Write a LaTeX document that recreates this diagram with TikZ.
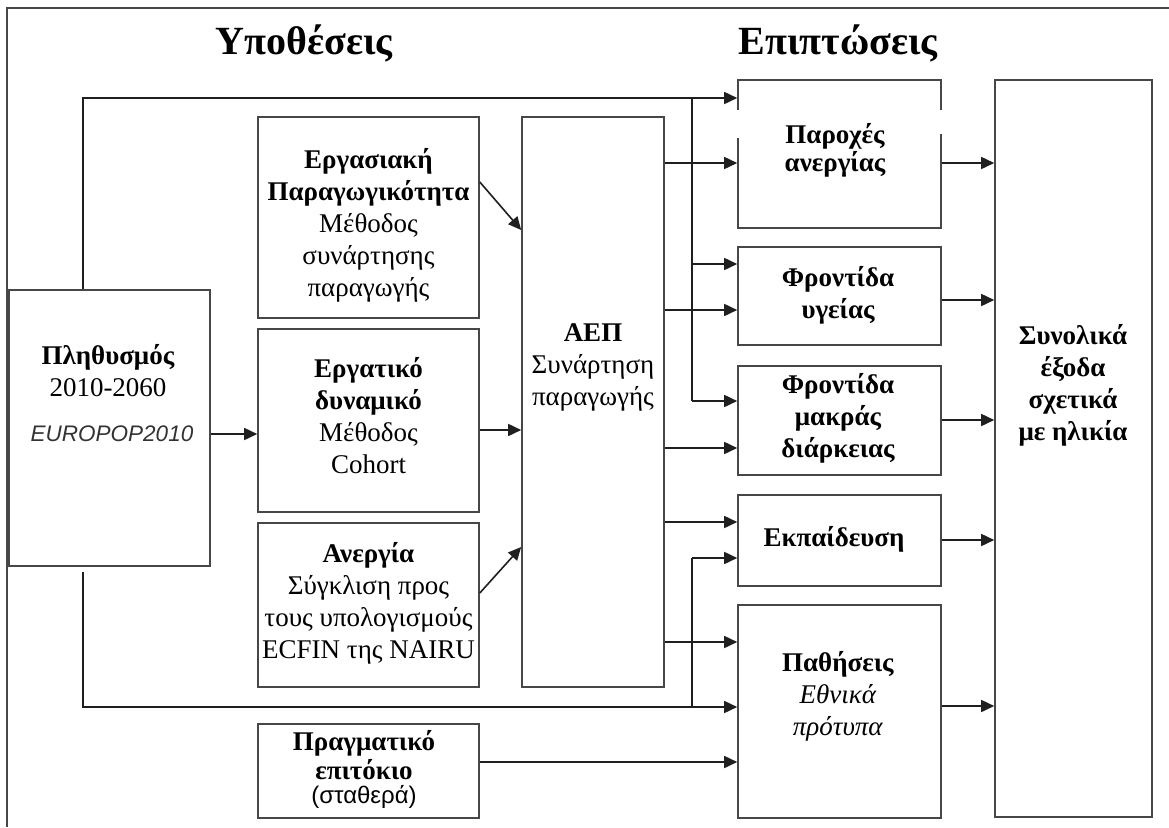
\documentclass[tikz,border=0pt]{standalone}
\usepackage{fontspec}
\setmainfont{Liberation Serif}
\newfontfamily\sansgr{Liberation Sans}
\usetikzlibrary{arrows.meta}
\tikzset{
  bx/.style={draw=black!72, line width=1.6pt, inner sep=0pt},
  ln/.style={draw=black!88, line width=1.6pt},
  arr/.style={ln, -{Triangle[length=13pt,width=12pt]}},
  tx/.style={inner sep=0pt, align=center, font=\fontsize{27}{32}\selectfont},
  txb/.style={tx, font=\fontsize{27}{32}\selectfont\bfseries},
  ttl/.style={inner sep=0pt, font=\fontsize{40}{46}\selectfont\bfseries},
  smallsans/.style={inner sep=0pt, align=center, font=\fontsize{22.5}{26}\selectfont\sansgr\itshape, text=black!80},
}
\newcommand\mkbox[5]{\node[bx, minimum width={#4-#2}, minimum height={#5-#3}] (#1) at ({(#2+#4)/2},{(#3+#5)/2}) {};}
\begin{document}
\begin{tikzpicture}[x=1pt,y=-1pt]
\useasboundingbox (0,0) rectangle (1169,827);
% frame (top and left edges)
\draw[draw=black!72, line width=1.8pt] (7,827) -- (7,8) -- (1169,8);
% titles
\node[ttl] (t-hyp) at (304,43) {Υποθέσεις};
\node[ttl] (t-imp) at (838,43) {Επιπτώσεις};
% boxes
\mkbox{pop}{9}{290}{210}{566}
\mkbox{prod}{258}{117}{479}{318}
\mkbox{lab}{258}{329}{479}{512}
\mkbox{unemp}{258}{523}{479}{687}
\mkbox{rate}{258}{724}{479}{818}
\mkbox{gdp}{522}{117}{664}{687}
\mkbox{ben}{738}{80}{941}{228}
\mkbox{health}{738}{247}{941}{345}
\mkbox{ltc}{738}{366}{941}{475}
\mkbox{edu}{738}{495}{941}{586}
\mkbox{dis}{738}{605}{941}{818}
\mkbox{tot}{995}{80}{1152}{817}
% gaps in the edges of the first impact box
\fill[white] (734,110) rectangle (742,138);
\fill[white] (937,110) rectangle (945,134);
% texts
\node[tx] (t-pop) at (108,371) {\textbf{Πληθυσμός}\\2010-2060};
\node[smallsans] (t-europop) at (112,434) {EUROPOP2010};
\node[tx] (t-prod) at (368.5,225) {\textbf{Εργασιακή}\\\textbf{Παραγωγικότητα}\\Μέθοδος\\συνάρτησης\\παραγωγής};
\node[tx] (t-lab) at (368.5,416) {\textbf{Εργατικό}\\\textbf{δυναμικό}\\Μέθοδος\\Cohort};
\node[tx] (t-unemp) at (368.5,603) {\textbf{Ανεργία}\\Σύγκλιση προς\\τους υπολογισμούς\\ECFIN της NAIRU};
\node[tx, font=\fontsize{27}{29}\selectfont] (t-rate) at (364,769) {\textbf{Πραγματικό}\\\textbf{επιτόκιο}\\[-5pt]{\sansgr\fontsize{24}{25}\selectfont (σταθερά)}};
\node[tx] (t-gdp) at (593,367) {\textbf{ΑΕΠ}\\Συνάρτηση\\παραγωγής};
\node[txb, font=\fontsize{27}{28}\selectfont\bfseries] (t-ben) at (835,150) {Παροχές\\ανεργίας};
\node[txb] (t-health) at (838,295) {Φροντίδα\\υγείας};
\node[txb] (t-ltc) at (838,418) {Φροντίδα\\μακράς\\διάρκειας};
\node[txb] (t-edu) at (834,539) {Εκπαίδευση};
\node[tx] (t-dis) at (838,696) {\textbf{Παθήσεις}\\\textit{Εθνικά}\\\textit{πρότυπα}};
\node[txb] (t-tot) at (1073,385) {Συνολικά\\έξοδα\\σχετικά\\με ηλικία};
% bus junction coordinates
\coordinate (jtl) at (83,98);
\coordinate (jbl0) at (83,572);
\coordinate (jbl) at (83,707);
\coordinate (jtr) at (692,98);
\coordinate (jtr2) at (692,264);
\coordinate (jtr3) at (692,401);
\coordinate (jbr) at (692,707);
\coordinate (jbr2) at (692,558);
% population -> top bus and bottom bus
\draw[arr] (83,0 |- pop.north) -- (jtl) -- (ben.west |- jtl);
\draw[ln] (jtr) -- (jtr3);
\draw[arr] (jtr2) -- (health.west |- jtr2);
\draw[arr] (jtr3) -- (ltc.west |- jtr3);
\draw[arr] (jbl0) -- (jbl) -- (dis.west |- jbl);
\draw[ln] (jbr) -- (jbr2);
\draw[arr] (jbr2) -- (edu.west |- jbr2);
% population -> labour force
\draw[arr] (pop.east |- 0,434) -- (lab.west |- 0,434);
% inputs -> GDP
\draw[arr] (prod.east |- 0,182) -- (gdp.west |- 0,230);
\draw[arr] (lab.east |- 0,430) -- (gdp.west |- 0,430);
\draw[arr] (unemp.east |- 0,593) -- (gdp.west |- 0,547);
% GDP -> impacts
\draw[arr] (gdp.east |- 0,163) -- (ben.west |- 0,163);
\draw[arr] (gdp.east |- 0,310) -- (health.west |- 0,310);
\draw[arr] (gdp.east |- 0,448) -- (ltc.west |- 0,448);
\draw[arr] (gdp.east |- 0,522) -- (edu.west |- 0,522);
\draw[arr] (gdp.east |- 0,642) -- (dis.west |- 0,642);
% interest rate -> pensions
\draw[arr] (rate.east |- 0,762) -- (dis.west |- 0,762);
% impacts -> total
\draw[arr] (ben.east |- 0,163) -- (tot.west |- 0,163);
\draw[arr] (health.east |- 0,300) -- (tot.west |- 0,300);
\draw[arr] (ltc.east |- 0,420) -- (tot.west |- 0,420);
\draw[arr] (edu.east |- 0,540) -- (tot.west |- 0,540);
\draw[arr] (dis.east |- 0,706) -- (tot.west |- 0,706);
\end{tikzpicture}
\end{document}
